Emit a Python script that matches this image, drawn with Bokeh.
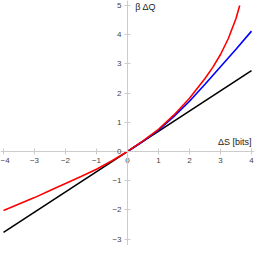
from bokeh.plotting import figure
from bokeh.models import Range1d, Label, FixedTicker
from bokeh.embed import file_html
from bokeh.resources import INLINE

# --- data ---
black_x = [-4, 4]
black_y = [-2.77, 2.77]

blue_x = [0, 0.5, 1.0, 1.5, 2.0, 2.5, 3.0, 3.5, 4.0]
blue_y = [0, 0.35, 0.73, 1.20, 1.72, 2.30, 2.90, 3.50, 4.12]

red_x = [-4, -3.5, -3, -2.5, -2, -1.5, -1, -0.5, 0, 0.5, 1.0, 1.5, 2.0, 2.5, 2.75, 3.0, 3.25, 3.5, 3.62]
red_y = [-2.02, -1.80, -1.58, -1.34, -1.10, -0.86, -0.61, -0.32, 0, 0.36, 0.76, 1.25, 1.82, 2.50, 2.88, 3.32, 3.86, 4.55, 5.0]

x_ticks = [-4, -3, -2, -1, 0, 1, 2, 3, 4]
y_ticks = [-3, -2, -1, 0, 1, 2, 3, 4, 5]

W, H = 254, 245
p = figure(width=W, height=H, output_backend="svg", toolbar_location=None,
           x_range=Range1d(-4.097, 4.097), y_range=Range1d(-3.22, 5.169),
           min_border=0)
p.grid.visible = False
p.outline_line_color = None
p.background_fill_color = "white"
p.border_fill_color = "white"

for ax in (p.xaxis[0], p.yaxis[0]):
    ax.fixed_location = 0
    ax.axis_line_color = "#cccccc"
    ax.axis_line_width = 1
    ax.major_tick_line_color = "#cccccc"
    ax.major_tick_in = 3
    ax.major_tick_out = 3
    ax.minor_tick_line_color = None
    ax.major_label_text_font = "Liberation Sans"
    ax.major_label_text_font_size = "8px"
    ax.major_label_text_color = "#444444"
p.xaxis[0].ticker = FixedTicker(ticks=x_ticks)
p.yaxis[0].ticker = FixedTicker(ticks=y_ticks)
p.xaxis[0].major_label_standoff = 4
p.yaxis[0].major_label_standoff = 3

p.line(black_x, black_y, line_color="black", line_width=1.6)
p.line(blue_x, blue_y, line_color="#0000ff", line_width=1.6)
p.line(red_x, red_y, line_color="#ff0000", line_width=1.6)

p.add_layout(Label(x=0.25, y=4.95, text="β ΔQ", text_font="Liberation Sans",
                   text_font_size="9px", text_color="#222222",
                   text_baseline="middle", text_align="left"))
p.add_layout(Label(x=4.0, y=0.32, text="ΔS [bits]", text_font="Liberation Sans",
                   text_font_size="9px", text_color="#222222",
                   text_baseline="middle", text_align="right"))

open("out.html", "w").write(file_html(p, INLINE))
